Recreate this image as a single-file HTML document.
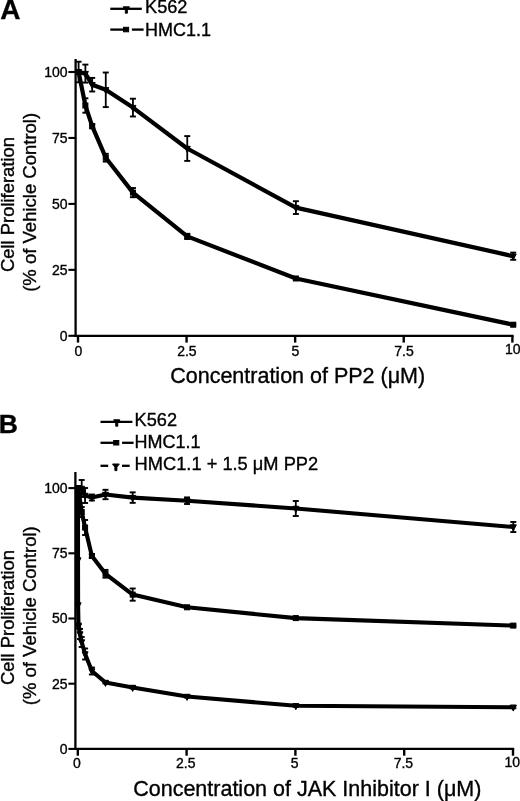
<!DOCTYPE html>
<html><head><meta charset="utf-8"><title>Cell proliferation</title>
<style>
html,body{margin:0;padding:0;background:#fff;overflow:hidden;}
svg{display:block;}
text{stroke:#000;stroke-width:0.35px;}
</style></head>
<body>
<svg width="520" height="801" viewBox="0 0 520 801" font-family="'Liberation Sans', Arial, Helvetica, sans-serif" fill="#000" stroke="#000">
<rect x="0" y="0" width="520" height="801" fill="#fff" stroke="none"/>
<g stroke="#000" fill="#000" stroke-linecap="butt">
<text x="0.2" y="18.8" font-size="28" font-weight="bold">A</text>
<line x1="110.3" y1="8.8" x2="141.8" y2="8.8" stroke-width="2.3"/><polygon points="123.25,6.80 129.45,6.80 127.35,10.00 127.35,13.20 125.35,13.20 125.35,10.00"/>
<text x="145" y="13.2" font-size="18.2">K562</text>
<line x1="110.3" y1="29.6" x2="125.89999999999999" y2="29.6" stroke-width="2.3"/><rect x="123.50" y="27.30" width="5.1" height="4.5"/><line x1="131.90" y1="29.6" x2="143.6" y2="29.6" stroke-width="2.3"/>
<text x="145" y="35.6" font-size="18">HMC1.1</text>
<line x1="75.6" y1="59.0" x2="75.6" y2="336.95" stroke-width="2.3"/><line x1="74.45" y1="335.8" x2="513.60" y2="335.8" stroke-width="2.3"/><line x1="68.4" y1="335.80" x2="75.60" y2="335.80" stroke-width="2.1"/><text x="67.6" y="340.70" text-anchor="end" font-size="14">0</text><line x1="68.4" y1="269.85" x2="75.60" y2="269.85" stroke-width="2.1"/><text x="67.6" y="274.75" text-anchor="end" font-size="14">25</text><line x1="68.4" y1="203.90" x2="75.60" y2="203.90" stroke-width="2.1"/><text x="67.6" y="208.80" text-anchor="end" font-size="14">50</text><line x1="68.4" y1="137.95" x2="75.60" y2="137.95" stroke-width="2.1"/><text x="67.6" y="142.85" text-anchor="end" font-size="14">75</text><line x1="68.4" y1="72.00" x2="75.60" y2="72.00" stroke-width="2.1"/><text x="67.6" y="76.90" text-anchor="end" font-size="14">100</text><line x1="78.00" y1="335.80" x2="78.00" y2="342.60" stroke-width="2.4"/><text x="78.30" y="355.6" text-anchor="middle" font-size="14">0</text><line x1="186.57" y1="335.80" x2="186.57" y2="342.60" stroke-width="2.4"/><text x="186.88" y="355.6" text-anchor="middle" font-size="14">2.5</text><line x1="295.15" y1="335.80" x2="295.15" y2="342.60" stroke-width="2.4"/><text x="295.45" y="355.6" text-anchor="middle" font-size="14">5</text><line x1="403.72" y1="335.80" x2="403.72" y2="342.60" stroke-width="2.4"/><text x="404.02" y="355.6" text-anchor="middle" font-size="14">7.5</text><line x1="512.40" y1="335.80" x2="512.40" y2="342.60" stroke-width="2.4"/><text x="512.70" y="353.8" text-anchor="middle" font-size="14">10</text>
<text transform="translate(14.2,272.00) rotate(-90)" font-size="18.4">Cell Proliferation</text><text transform="translate(35.7,291.80) rotate(-90)" font-size="18.5">(% of Vehicle Control)</text>
<text x="170.2" y="382.6" font-size="21.5">Concentration of PP2 (μM)</text>
<line x1="78.60" y1="61.70" x2="78.60" y2="82.30" stroke-width="1.8"/><line x1="75.60" y1="61.70" x2="81.60" y2="61.70" stroke-width="1.9"/><line x1="75.60" y1="82.30" x2="81.60" y2="82.30" stroke-width="1.9"/><line x1="85.38" y1="64.60" x2="85.38" y2="82.60" stroke-width="1.8"/><line x1="82.38" y1="64.60" x2="88.38" y2="64.60" stroke-width="1.9"/><line x1="82.38" y1="82.60" x2="88.38" y2="82.60" stroke-width="1.9"/><line x1="92.18" y1="77.90" x2="92.18" y2="91.50" stroke-width="1.8"/><line x1="89.18" y1="77.90" x2="95.18" y2="77.90" stroke-width="1.9"/><line x1="89.18" y1="91.50" x2="95.18" y2="91.50" stroke-width="1.9"/><line x1="105.76" y1="72.50" x2="105.76" y2="107.10" stroke-width="1.8"/><line x1="102.76" y1="72.50" x2="108.76" y2="72.50" stroke-width="1.9"/><line x1="102.76" y1="107.10" x2="108.76" y2="107.10" stroke-width="1.9"/><line x1="132.93" y1="98.70" x2="132.93" y2="116.50" stroke-width="1.8"/><line x1="129.93" y1="98.70" x2="135.93" y2="98.70" stroke-width="1.9"/><line x1="129.93" y1="116.50" x2="135.93" y2="116.50" stroke-width="1.9"/><line x1="187.25" y1="136.10" x2="187.25" y2="160.90" stroke-width="1.8"/><line x1="184.25" y1="136.10" x2="190.25" y2="136.10" stroke-width="1.9"/><line x1="184.25" y1="160.90" x2="190.25" y2="160.90" stroke-width="1.9"/><line x1="295.90" y1="201.20" x2="295.90" y2="214.00" stroke-width="1.8"/><line x1="292.90" y1="201.20" x2="298.90" y2="201.20" stroke-width="1.9"/><line x1="292.90" y1="214.00" x2="298.90" y2="214.00" stroke-width="1.9"/><line x1="513.20" y1="252.60" x2="513.20" y2="259.80" stroke-width="1.8"/><line x1="510.20" y1="252.60" x2="516.20" y2="252.60" stroke-width="1.9"/><line x1="510.20" y1="259.80" x2="516.20" y2="259.80" stroke-width="1.9"/><polyline fill="none" stroke-linejoin="round" stroke-width="4.20" points="78.60,72.00 85.38,73.60 92.18,84.70 105.76,89.80 132.93,107.60 187.25,148.50 295.90,207.60 513.20,256.20"/><polygon points="75.60,69.80 81.60,69.80 78.60,75.90"/><polygon points="82.38,71.40 88.38,71.40 85.38,77.50"/><polygon points="89.18,82.50 95.18,82.50 92.18,88.60"/><polygon points="102.76,87.60 108.76,87.60 105.76,93.70"/><polygon points="129.93,105.40 135.93,105.40 132.93,111.50"/><polygon points="184.25,146.30 190.25,146.30 187.25,152.40"/><polygon points="292.90,205.40 298.90,205.40 295.90,211.50"/><polygon points="510.20,254.00 516.20,254.00 513.20,260.10"/>
<line x1="85.38" y1="98.30" x2="85.38" y2="112.70" stroke-width="1.8"/><line x1="82.38" y1="98.30" x2="88.38" y2="98.30" stroke-width="1.9"/><line x1="82.38" y1="112.70" x2="88.38" y2="112.70" stroke-width="1.9"/><line x1="92.18" y1="124.20" x2="92.18" y2="128.20" stroke-width="1.8"/><line x1="89.18" y1="124.20" x2="95.18" y2="124.20" stroke-width="1.9"/><line x1="89.18" y1="128.20" x2="95.18" y2="128.20" stroke-width="1.9"/><line x1="105.76" y1="153.80" x2="105.76" y2="161.60" stroke-width="1.8"/><line x1="102.76" y1="153.80" x2="108.76" y2="153.80" stroke-width="1.9"/><line x1="102.76" y1="161.60" x2="108.76" y2="161.60" stroke-width="1.9"/><line x1="132.93" y1="188.00" x2="132.93" y2="197.20" stroke-width="1.8"/><line x1="129.93" y1="188.00" x2="135.93" y2="188.00" stroke-width="1.9"/><line x1="129.93" y1="197.20" x2="135.93" y2="197.20" stroke-width="1.9"/><line x1="187.25" y1="233.80" x2="187.25" y2="239.00" stroke-width="1.8"/><line x1="184.25" y1="233.80" x2="190.25" y2="233.80" stroke-width="1.9"/><line x1="184.25" y1="239.00" x2="190.25" y2="239.00" stroke-width="1.9"/><line x1="295.90" y1="277.50" x2="295.90" y2="279.50" stroke-width="1.8"/><line x1="292.90" y1="277.50" x2="298.90" y2="277.50" stroke-width="1.9"/><line x1="292.90" y1="279.50" x2="298.90" y2="279.50" stroke-width="1.9"/><line x1="513.20" y1="323.70" x2="513.20" y2="325.70" stroke-width="1.8"/><line x1="510.20" y1="323.70" x2="516.20" y2="323.70" stroke-width="1.9"/><line x1="510.20" y1="325.70" x2="516.20" y2="325.70" stroke-width="1.9"/><polyline fill="none" stroke-linejoin="round" stroke-width="4.20" points="78.60,72.00 85.38,105.50 92.18,126.20 105.76,157.70 132.93,192.60 187.25,236.40 295.90,278.50 513.20,324.70"/><rect x="76.10" y="69.50" width="5.00" height="5.00"/><rect x="82.88" y="103.00" width="5.00" height="5.00"/><rect x="89.68" y="123.70" width="5.00" height="5.00"/><rect x="103.26" y="155.20" width="5.00" height="5.00"/><rect x="130.43" y="190.10" width="5.00" height="5.00"/><rect x="184.75" y="233.90" width="5.00" height="5.00"/><rect x="293.40" y="276.00" width="5.00" height="5.00"/><rect x="510.70" y="322.20" width="5.00" height="5.00"/>
<text x="-1.3" y="432.7" font-size="26.5" font-weight="bold">B</text>
<line x1="100.5" y1="421.8" x2="132.4" y2="421.8" stroke-width="2.3"/><polygon points="113.65,419.80 119.85,419.80 117.75,423.00 117.75,426.20 115.75,426.20 115.75,423.00"/>
<text x="134.6" y="426.2" font-size="18.2">K562</text>
<line x1="100.5" y1="442.8" x2="116.1" y2="442.8" stroke-width="2.3"/><rect x="113.70" y="440.50" width="5.1" height="4.5"/><line x1="122.10" y1="442.8" x2="133.6" y2="442.8" stroke-width="2.3"/>
<text x="134.6" y="448.2" font-size="18">HMC1.1</text>
<line x1="100.5" y1="465.8" x2="108.20" y2="465.8" stroke-width="2.3"/><polygon points="112.50,464.00 119.30,464.00 116.90,467.10 116.90,470.60 114.90,470.60 114.90,467.10"/><line x1="122.00" y1="465.8" x2="129.70" y2="465.8" stroke-width="2.3"/>
<text x="134.6" y="470.2" font-size="18" textLength="183.6" lengthAdjust="spacingAndGlyphs">HMC1.1 + 1.5 μM PP2</text>
<line x1="75.4" y1="472.0" x2="75.4" y2="750.05" stroke-width="2.3"/><line x1="74.25" y1="748.9" x2="514.20" y2="748.9" stroke-width="2.3"/><line x1="68.4" y1="748.90" x2="75.40" y2="748.90" stroke-width="2.1"/><text x="67.6" y="753.80" text-anchor="end" font-size="14">0</text><line x1="68.4" y1="683.70" x2="75.40" y2="683.70" stroke-width="2.1"/><text x="67.6" y="688.60" text-anchor="end" font-size="14">25</text><line x1="68.4" y1="618.50" x2="75.40" y2="618.50" stroke-width="2.1"/><text x="67.6" y="623.40" text-anchor="end" font-size="14">50</text><line x1="68.4" y1="553.30" x2="75.40" y2="553.30" stroke-width="2.1"/><text x="67.6" y="558.20" text-anchor="end" font-size="14">75</text><line x1="68.4" y1="488.10" x2="75.40" y2="488.10" stroke-width="2.1"/><text x="67.6" y="493.00" text-anchor="end" font-size="14">100</text><line x1="77.80" y1="748.90" x2="77.80" y2="755.70" stroke-width="2.4"/><text x="77.00" y="768.4" text-anchor="middle" font-size="14">0</text><line x1="186.60" y1="748.90" x2="186.60" y2="755.70" stroke-width="2.4"/><text x="185.80" y="768.4" text-anchor="middle" font-size="14">2.5</text><line x1="295.40" y1="748.90" x2="295.40" y2="755.70" stroke-width="2.4"/><text x="294.60" y="768.4" text-anchor="middle" font-size="14">5</text><line x1="404.20" y1="748.90" x2="404.20" y2="755.70" stroke-width="2.4"/><text x="403.40" y="768.4" text-anchor="middle" font-size="14">7.5</text><line x1="513.00" y1="748.90" x2="513.00" y2="755.70" stroke-width="2.4"/><text x="512.20" y="766.6" text-anchor="middle" font-size="14">10</text>
<text transform="translate(14.2,685.00) rotate(-90)" font-size="18.4">Cell Proliferation</text><text transform="translate(35.7,705.20) rotate(-90)" font-size="18.5">(% of Vehicle Control)</text>
<text x="133.2" y="795.6" font-size="21.5">Concentration of JAK Inhibitor I (μM)</text>
<line x1="81.69" y1="480.00" x2="81.69" y2="497.00" stroke-width="1.8"/><line x1="78.69" y1="480.00" x2="84.69" y2="480.00" stroke-width="1.9"/><line x1="78.69" y1="497.00" x2="84.69" y2="497.00" stroke-width="1.9"/><line x1="85.09" y1="488.00" x2="85.09" y2="503.00" stroke-width="1.8"/><line x1="82.09" y1="488.00" x2="88.09" y2="488.00" stroke-width="1.9"/><line x1="82.09" y1="503.00" x2="88.09" y2="503.00" stroke-width="1.9"/><line x1="91.89" y1="494.50" x2="91.89" y2="500.50" stroke-width="1.8"/><line x1="88.89" y1="494.50" x2="94.89" y2="494.50" stroke-width="1.9"/><line x1="88.89" y1="500.50" x2="94.89" y2="500.50" stroke-width="1.9"/><line x1="105.49" y1="489.80" x2="105.49" y2="499.20" stroke-width="1.8"/><line x1="102.49" y1="489.80" x2="108.49" y2="489.80" stroke-width="1.9"/><line x1="102.49" y1="499.20" x2="108.49" y2="499.20" stroke-width="1.9"/><line x1="132.67" y1="492.35" x2="132.67" y2="502.85" stroke-width="1.8"/><line x1="129.67" y1="492.35" x2="135.67" y2="492.35" stroke-width="1.9"/><line x1="129.67" y1="502.85" x2="135.67" y2="502.85" stroke-width="1.9"/><line x1="187.05" y1="497.40" x2="187.05" y2="504.00" stroke-width="1.8"/><line x1="184.05" y1="497.40" x2="190.05" y2="497.40" stroke-width="1.9"/><line x1="184.05" y1="504.00" x2="190.05" y2="504.00" stroke-width="1.9"/><line x1="295.80" y1="501.00" x2="295.80" y2="516.00" stroke-width="1.8"/><line x1="292.80" y1="501.00" x2="298.80" y2="501.00" stroke-width="1.9"/><line x1="292.80" y1="516.00" x2="298.80" y2="516.00" stroke-width="1.9"/><line x1="513.30" y1="521.95" x2="513.30" y2="532.05" stroke-width="1.8"/><line x1="510.30" y1="521.95" x2="516.30" y2="521.95" stroke-width="1.9"/><line x1="510.30" y1="532.05" x2="516.30" y2="532.05" stroke-width="1.9"/><polyline fill="none" stroke-linejoin="round" stroke-width="4.10" points="78.30,488.10 81.69,488.50 85.09,495.50 91.89,497.50 105.49,494.50 132.67,497.60 187.05,500.70 295.80,508.50 513.30,527.00"/><polygon points="75.30,485.90 81.30,485.90 78.30,492.00"/><polygon points="78.69,486.30 84.69,486.30 81.69,492.40"/><polygon points="82.09,493.30 88.09,493.30 85.09,499.40"/><polygon points="88.89,495.30 94.89,495.30 91.89,501.40"/><polygon points="102.49,492.30 108.49,492.30 105.49,498.40"/><polygon points="129.67,495.40 135.67,495.40 132.67,501.50"/><polygon points="184.05,498.50 190.05,498.50 187.05,504.60"/><polygon points="292.80,506.30 298.80,506.30 295.80,512.40"/><polygon points="510.30,524.80 516.30,524.80 513.30,530.90"/>
<line x1="81.69" y1="507.00" x2="81.69" y2="517.00" stroke-width="1.8"/><line x1="78.69" y1="507.00" x2="84.69" y2="507.00" stroke-width="1.9"/><line x1="78.69" y1="517.00" x2="84.69" y2="517.00" stroke-width="1.9"/><line x1="85.09" y1="520.00" x2="85.09" y2="535.00" stroke-width="1.8"/><line x1="82.09" y1="520.00" x2="88.09" y2="520.00" stroke-width="1.9"/><line x1="82.09" y1="535.00" x2="88.09" y2="535.00" stroke-width="1.9"/><line x1="91.89" y1="554.00" x2="91.89" y2="558.00" stroke-width="1.8"/><line x1="88.89" y1="554.00" x2="94.89" y2="554.00" stroke-width="1.9"/><line x1="88.89" y1="558.00" x2="94.89" y2="558.00" stroke-width="1.9"/><line x1="105.49" y1="569.90" x2="105.49" y2="577.70" stroke-width="1.8"/><line x1="102.49" y1="569.90" x2="108.49" y2="569.90" stroke-width="1.9"/><line x1="102.49" y1="577.70" x2="108.49" y2="577.70" stroke-width="1.9"/><line x1="132.67" y1="588.50" x2="132.67" y2="600.70" stroke-width="1.8"/><line x1="129.67" y1="588.50" x2="135.67" y2="588.50" stroke-width="1.9"/><line x1="129.67" y1="600.70" x2="135.67" y2="600.70" stroke-width="1.9"/><line x1="295.80" y1="617.10" x2="295.80" y2="619.10" stroke-width="1.8"/><line x1="292.80" y1="617.10" x2="298.80" y2="617.10" stroke-width="1.9"/><line x1="292.80" y1="619.10" x2="298.80" y2="619.10" stroke-width="1.9"/><line x1="513.30" y1="624.60" x2="513.30" y2="626.60" stroke-width="1.8"/><line x1="510.30" y1="624.60" x2="516.30" y2="624.60" stroke-width="1.9"/><line x1="510.30" y1="626.60" x2="516.30" y2="626.60" stroke-width="1.9"/><polyline fill="none" stroke-linejoin="round" stroke-width="4.10" points="78.30,488.10 81.69,512.00 85.09,527.50 91.89,556.00 105.49,573.80 132.67,594.60 187.05,607.30 295.80,618.10 513.30,625.60"/><rect x="75.80" y="485.60" width="5.00" height="5.00"/><rect x="79.19" y="509.50" width="5.00" height="5.00"/><rect x="82.59" y="525.00" width="5.00" height="5.00"/><rect x="89.39" y="553.50" width="5.00" height="5.00"/><rect x="102.99" y="571.30" width="5.00" height="5.00"/><rect x="130.17" y="592.10" width="5.00" height="5.00"/><rect x="184.55" y="604.80" width="5.00" height="5.00"/><rect x="293.30" y="615.60" width="5.00" height="5.00"/><rect x="510.80" y="623.10" width="5.00" height="5.00"/>
<line x1="78.50" y1="623.50" x2="78.50" y2="628.50" stroke-width="1.8"/><line x1="75.50" y1="623.50" x2="81.50" y2="623.50" stroke-width="1.9"/><line x1="75.50" y1="628.50" x2="81.50" y2="628.50" stroke-width="1.9"/><line x1="80.00" y1="629.00" x2="80.00" y2="639.00" stroke-width="1.8"/><line x1="77.00" y1="629.00" x2="83.00" y2="629.00" stroke-width="1.9"/><line x1="77.00" y1="639.00" x2="83.00" y2="639.00" stroke-width="1.9"/><line x1="81.69" y1="637.00" x2="81.69" y2="647.00" stroke-width="1.8"/><line x1="78.69" y1="637.00" x2="84.69" y2="637.00" stroke-width="1.9"/><line x1="78.69" y1="647.00" x2="84.69" y2="647.00" stroke-width="1.9"/><line x1="85.09" y1="648.50" x2="85.09" y2="659.50" stroke-width="1.8"/><line x1="82.09" y1="648.50" x2="88.09" y2="648.50" stroke-width="1.9"/><line x1="82.09" y1="659.50" x2="88.09" y2="659.50" stroke-width="1.9"/><line x1="91.89" y1="667.50" x2="91.89" y2="674.50" stroke-width="1.8"/><line x1="88.89" y1="667.50" x2="94.89" y2="667.50" stroke-width="1.9"/><line x1="88.89" y1="674.50" x2="94.89" y2="674.50" stroke-width="1.9"/><line x1="105.49" y1="681.50" x2="105.49" y2="683.50" stroke-width="1.8"/><line x1="102.49" y1="681.50" x2="108.49" y2="681.50" stroke-width="1.9"/><line x1="102.49" y1="683.50" x2="108.49" y2="683.50" stroke-width="1.9"/><line x1="132.67" y1="686.50" x2="132.67" y2="688.50" stroke-width="1.8"/><line x1="129.67" y1="686.50" x2="135.67" y2="686.50" stroke-width="1.9"/><line x1="129.67" y1="688.50" x2="135.67" y2="688.50" stroke-width="1.9"/><line x1="187.05" y1="695.50" x2="187.05" y2="697.50" stroke-width="1.8"/><line x1="184.05" y1="695.50" x2="190.05" y2="695.50" stroke-width="1.9"/><line x1="184.05" y1="697.50" x2="190.05" y2="697.50" stroke-width="1.9"/><line x1="295.80" y1="704.80" x2="295.80" y2="706.80" stroke-width="1.8"/><line x1="292.80" y1="704.80" x2="298.80" y2="704.80" stroke-width="1.9"/><line x1="292.80" y1="706.80" x2="298.80" y2="706.80" stroke-width="1.9"/><line x1="513.30" y1="706.20" x2="513.30" y2="708.20" stroke-width="1.8"/><line x1="510.30" y1="706.20" x2="516.30" y2="706.20" stroke-width="1.9"/><line x1="510.30" y1="708.20" x2="516.30" y2="708.20" stroke-width="1.9"/><polyline fill="none" stroke-linejoin="round" stroke-width="4.10" points="78.00,488.10 78.00,560.00 78.10,605.00 78.50,626.00 80.00,634.00 81.69,642.00 85.09,654.00 91.89,671.00 105.49,682.50 132.67,687.50 187.05,696.50 295.80,705.80 513.30,707.20"/><polygon points="75.00,485.90 81.00,485.90 78.00,492.00"/><polygon points="75.00,557.80 81.00,557.80 78.00,563.90"/><polygon points="75.10,602.80 81.10,602.80 78.10,608.90"/><polygon points="75.50,623.80 81.50,623.80 78.50,629.90"/><polygon points="77.00,631.80 83.00,631.80 80.00,637.90"/><polygon points="78.69,639.80 84.69,639.80 81.69,645.90"/><polygon points="82.09,651.80 88.09,651.80 85.09,657.90"/><polygon points="88.89,668.80 94.89,668.80 91.89,674.90"/><polygon points="102.49,680.30 108.49,680.30 105.49,686.40"/><polygon points="129.67,685.30 135.67,685.30 132.67,691.40"/><polygon points="184.05,694.30 190.05,694.30 187.05,700.40"/><polygon points="292.80,703.60 298.80,703.60 295.80,709.70"/><polygon points="510.30,705.00 516.30,705.00 513.30,711.10"/>
</g>
</svg>
</body></html>
